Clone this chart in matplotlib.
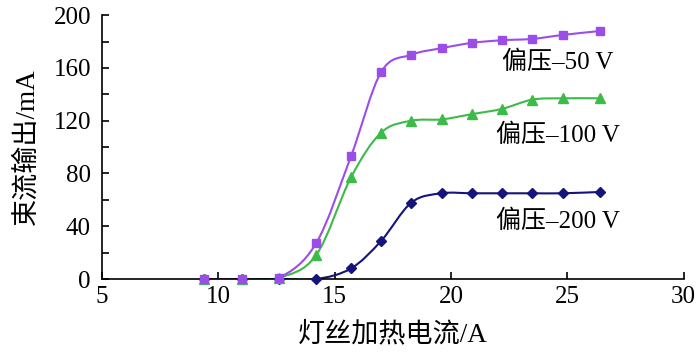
import numpy as np
import matplotlib.pyplot as plt
from matplotlib.path import Path
from matplotlib.patches import PathPatch
from matplotlib.ticker import MultipleLocator

plt.rcParams['font.family'] = ['Liberation Serif', 'Noto Sans CJK SC']

current = [9.4, 11.0, 12.6, 14.2, 15.7, 17.0, 18.3, 19.6, 20.9, 22.2, 23.5, 24.8, 26.4]
bias_50 = [0, 0, 1, 27, 93, 157, 170, 175, 179, 181, 182, 185, 188]
bias_100 = [0, 0, 1, 18, 77, 111, 120, 121, 125, 129, 136, 137, 137]
bias_200 = [0, 0, 0, 0, 8, 29, 58, 65, 65, 65, 65, 65, 66]

labels = ['偏压–50 V', '偏压–100 V', '偏压–200 V']
label_pos = [(22.2, 164), (21.95, 109), (21.95, 44)]


def smooth_path(x, y):
    # Catmull-Rom turned into cubic bezier segments
    x = np.asarray(x, float)
    y = np.asarray(y, float)
    pts = np.column_stack([x, y])
    verts = [pts[0]]
    codes = [Path.MOVETO]
    n = len(pts)
    for i in range(n - 1):
        p0 = pts[i - 1] if i > 0 else pts[i]
        p1 = pts[i]
        p2 = pts[i + 1]
        p3 = pts[i + 2] if i + 2 < n else pts[i + 1]
        c1 = p1 + (p2 - p0) / 6.0
        c2 = p2 - (p3 - p1) / 6.0
        verts += [c1, c2, p2]
        codes += [Path.CURVE4] * 3
    return Path(verts, codes)


fig = plt.figure(figsize=(7, 3.61), dpi=100)
ax = fig.add_axes([0.1457, 0.227, 0.831, 0.731])

series = [
    (bias_200, '#14147a', 'D', 5),
    (bias_100, '#3dbb48', '^', 7),
    (bias_50, '#9b4de8', 's', 5.5),
]
for ys, col, mk, ms in series:
    ax.add_patch(PathPatch(smooth_path(current, ys), fill=False, edgecolor=col, lw=1.5, zorder=2))
    ax.plot(current, ys, ls='none', marker=mk, ms=ms, color=col, zorder=3, clip_on=False)

for txt, (tx, ty) in zip(labels, label_pos):
    ax.text(tx, ty, txt, fontsize=18, va='center', ha='left')

ax.set_xlim(5, 30)
ax.set_ylim(0, 200)
ax.xaxis.set_major_locator(MultipleLocator(5))
ax.yaxis.set_major_locator(MultipleLocator(40))
ax.yaxis.set_minor_locator(MultipleLocator(20))
ax.tick_params(which='both', direction='in', labelsize=18, width=1.2)
ax.tick_params(which='major', length=5)
ax.tick_params(which='minor', length=5)
ax.tick_params(axis='x', pad=5)
ax.tick_params(axis='y', pad=8)
for s in ['top', 'right']:
    ax.spines[s].set_visible(False)
for s in ['left', 'bottom']:
    ax.spines[s].set_linewidth(1.2)

ax.set_xlabel('灯丝加热电流/A', fontsize=19.5, labelpad=10)
ax.set_ylabel('束流输出/mA', fontsize=19.5, labelpad=10)

fig.savefig('out.png', dpi=100)
